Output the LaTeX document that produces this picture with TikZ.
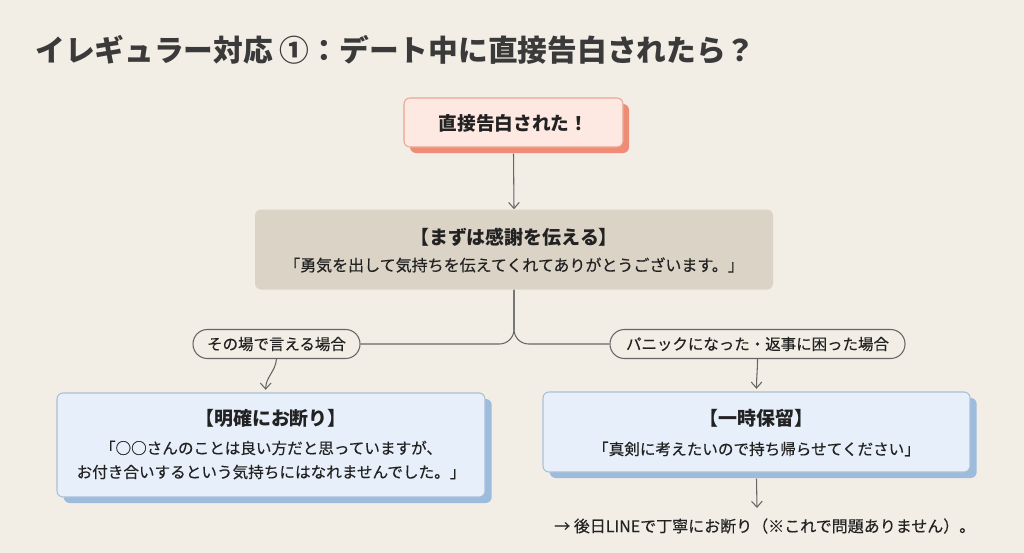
\documentclass[tikz,border=0pt]{standalone}
\usepackage{fontspec}
\setmainfont{Noto Sans CJK JP}
\newfontfamily\bodyfont{Noto Sans CJK JP}[FakeBold=0.35]
\usetikzlibrary{arrows.meta,shadows}
\definecolor{bg}{HTML}{F2EEE5}
\definecolor{txt}{HTML}{222222}
\definecolor{titletxt}{HTML}{3A3A3A}
\definecolor{linec}{HTML}{666666}
\definecolor{pinkfill}{HTML}{FDE9E2}
\definecolor{pinkdraw}{HTML}{EBA496}
\definecolor{pinkshadow}{HTML}{F08B77}
\definecolor{taupe}{HTML}{DBD3C5}
\definecolor{bluefill}{HTML}{E7F0FA}
\definecolor{bluedraw}{HTML}{A9BFD6}
\definecolor{blueshadow}{HTML}{9CBBDD}
\tikzset{
  box/.style={rectangle, rounded corners=4.5pt, inner sep=0pt},
  pinkbox/.style={box, fill=pinkfill, draw=pinkdraw, line width=0.8pt,
    drop shadow={shadow xshift=4.5pt, shadow yshift=-4.5pt, fill=pinkshadow, opacity=1}},
  taupebox/.style={box, fill=taupe},
  bluebox/.style={box, fill=bluefill, draw=bluedraw, line width=0.8pt,
    drop shadow={shadow xshift=5pt, shadow yshift=-4.5pt, fill=blueshadow, opacity=1}},
  pill/.style={rectangle, rounded corners=10.8pt, draw=linec, line width=0.8pt, fill=bg,
    inner sep=0pt, minimum height=21.75pt, font=\bodyfont\fontsize{11.6pt}{13pt}\selectfont, text=txt},
  conn/.style={draw=linec, line width=0.8pt},
  arr/.style={conn, -{Straight Barb[length=4.5pt,width=8pt]}},
  headtxt/.style={font=\fontsize{14.2pt}{16pt}\selectfont\bfseries, text=txt, inner sep=0pt},
  bodytxt/.style={font=\bodyfont\fontsize{11.7pt}{13pt}\selectfont, text=txt, inner sep=0pt},
}
\begin{document}
\begin{tikzpicture}[x=0.75pt,y=-0.75pt]
\fill[bg] (0,0) rectangle (1024,553);
\useasboundingbox (0,0) rectangle (1024,553);

% title
\node[anchor=west, inner sep=0pt, text=titletxt, font=\fontsize{22.3pt}{26pt}\selectfont\bfseries] (title) at (35,50) {イレギュラー対応 ①：デート中に直接告白されたら？};

% top box
\node[pinkbox, minimum width=164.25pt, minimum height=36.75pt] (top) at (513.5,122.5) {};
\node[headtxt, font=\fontsize{14pt}{16pt}\selectfont\bfseries] (toptxt) at (513.5,123) {直接告白された！};

% box 2
\node[taupebox, minimum width=388.5pt, minimum height=60pt] (b2) at (514,249.5) {};
\node[headtxt] (b2h) at (514,237) {【まずは感謝を伝える】};
\node[bodytxt, font=\bodyfont\fontsize{12pt}{14pt}\selectfont] (b2b) at (514,265) {「勇気を出して気持ちを伝えてくれてありがとうございます。」};

% pills
\node[pill, minimum width=125.25pt] (p1) at (276.5,344) {その場で言える場合};
\node[pill, minimum width=221.25pt] (p2) at (757.5,344) {パニックになった・返事に困った場合};

% left box
\node[bluebox, minimum width=321pt, minimum height=78pt] (l1) at (271,445) {};
\node[headtxt] (l1h) at (271,418) {【明確にお断り】};
\node[bodytxt] (l1a) at (271,448) {「○○さんのことは良い方だと思っていますが、};
\node[bodytxt] (l1b) at (271,472) {お付き合いするという気持ちにはなれませんでした。」};

% right box
\node[bluebox, minimum width=320.25pt, minimum height=60pt] (r1) at (756.5,432) {};
\node[headtxt] (r1h) at (756.5,418) {【一時保留】};
\node[bodytxt] (r1a) at (756.5,449) {「真剣に考えたいので持ち帰らせてください」};

% note
\node[bodytxt, font=\bodyfont\fontsize{12pt}{14pt}\selectfont, anchor=west] (note) at (554,526) {→ 後日LINEで丁寧にお断り（※これで問題ありません）。};
\coordinate (noteTop) at (757,508);

% connectors
\draw[arr] ([yshift=-4.5pt]top.south) -- (b2.north);
\draw[conn, rounded corners=11pt] (b2.south) |- (p1.east);
\draw[conn, rounded corners=11pt] (b2.south) |- (p2.west);
\draw[arr] (p1.south) to[out=-95,in=90] ([xshift=-4pt,yshift=2pt]l1.north);
\draw[arr] (p2.south) to[out=-90,in=90] ([yshift=2pt]r1.north);
\draw[arr] ([yshift=-4.5pt]r1.south) -- (noteTop);
\end{tikzpicture}
\end{document}
